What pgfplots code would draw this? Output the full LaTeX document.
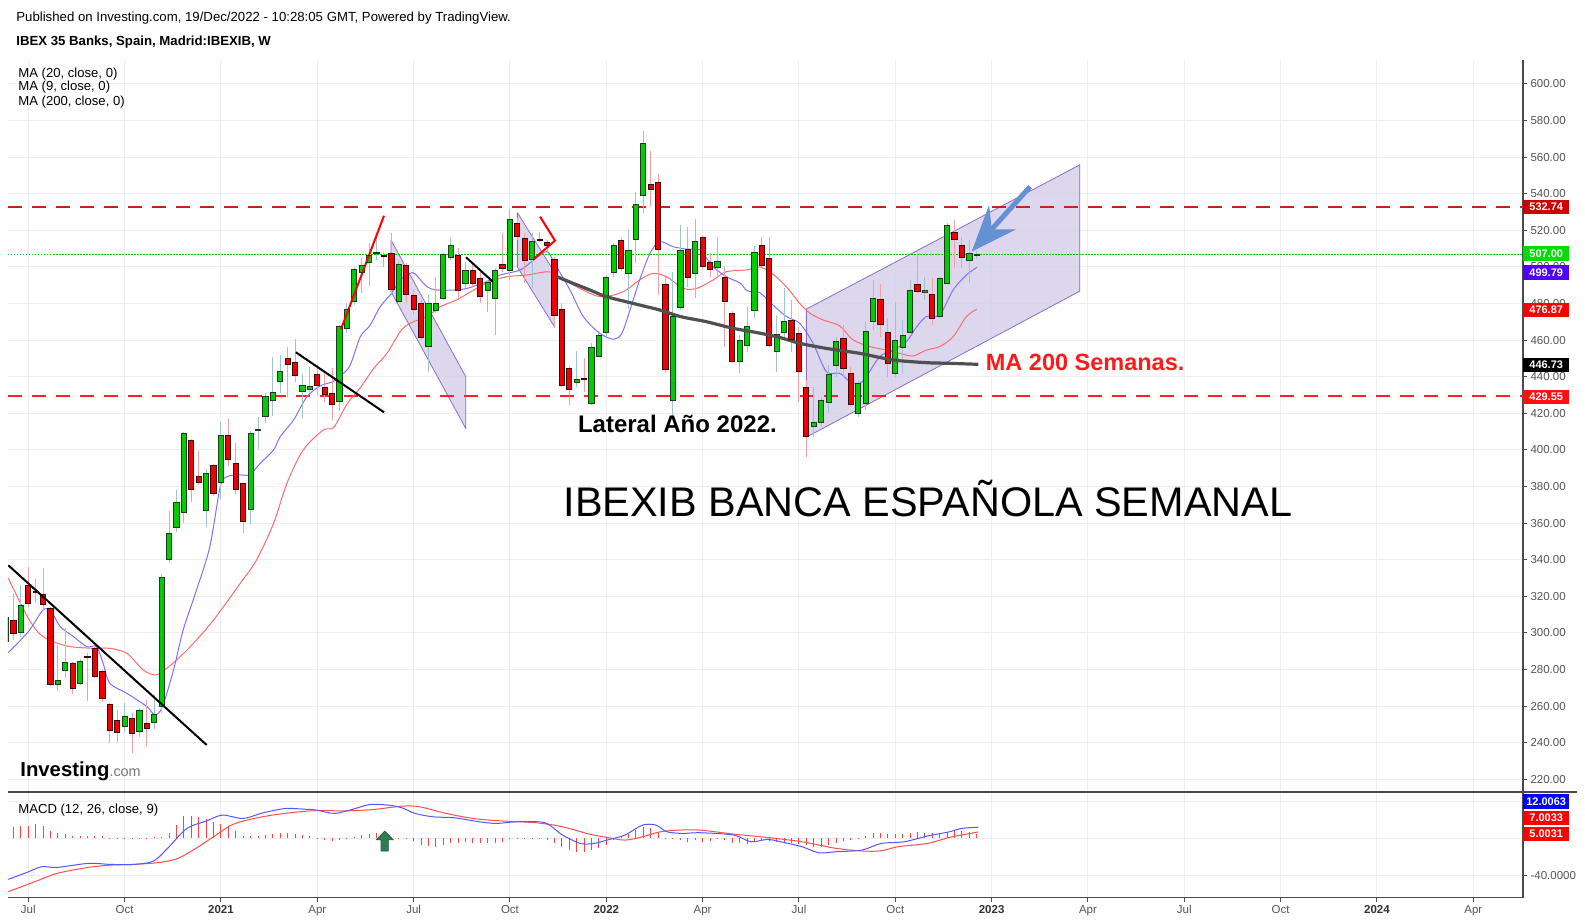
\documentclass[border=0pt]{standalone}
\usepackage{fontspec}
\setmainfont{Liberation Sans}
\usepackage{pgfplots}
\usepackage{pgfplotstable}
\pgfplotsset{compat=1.18}
\usetikzlibrary{arrows.meta}

\definecolor{upfill}{HTML}{00CC00}
\definecolor{dnfill}{HTML}{F00000}
\definecolor{upedge}{HTML}{1F3A1F}
\definecolor{dnedge}{HTML}{3A0A0A}
\definecolor{upwick}{HTML}{9CC6CC}
\definecolor{dnwick}{HTML}{F4A0A4}
\definecolor{ma9}{HTML}{8070FF}
\definecolor{ma20}{HTML}{FF6A6A}
\definecolor{ma200}{HTML}{505050}
\definecolor{gridc}{HTML}{EEEEEE}
\definecolor{axisc}{HTML}{4A4A4A}
\definecolor{tickc}{HTML}{555555}
\definecolor{chanfill}{HTML}{D6D0EA}
\definecolor{chanedge}{HTML}{8E6CC4}
\definecolor{arrowc}{HTML}{6391D4}
\definecolor{macdc}{HTML}{5555FF}
\definecolor{sigc}{HTML}{FF4D4D}
\definecolor{histc}{HTML}{FF4040}
\definecolor{resup}{HTML}{CC1F1F}
\definecolor{reslo}{HTML}{FF2020}
\definecolor{lastc}{HTML}{00CC00}
\definecolor{notec}{HTML}{FF1A1A}
\definecolor{sigarrow}{HTML}{2E7D4F}
\definecolor{sigarrowedge}{HTML}{1F5A38}
\definecolor{boxdkred}{HTML}{CC0000}
\definecolor{boxgreen}{HTML}{00DD00}
\definecolor{boxviolet}{HTML}{5000FF}
\definecolor{boxred}{HTML}{FF0000}
\definecolor{boxred2}{HTML}{FF1010}
\definecolor{boxblue}{HTML}{0000FF}

% weekly candles, x = weeks since Mon 6 Jan 2020
\pgfplotstableread{
w o h l c
23 295.3 312.0 292.0 308.9
25 300.4 326.2 297.6 314.8
30 272.0 293.4 268.5 274.1
31 279.6 302.6 275.6 284.0
33 272.3 285.8 271.6 284.5
39 249.0 261.6 245.7 254.5
41 246.3 258.8 243.3 257.8
43 251.2 266.1 247.7 255.2
44 259.8 332.2 256.1 330.4
45 340.2 366.7 338.0 354.5
46 357.7 378.1 355.4 371.4
47 365.9 409.8 360.3 409.1
50 367.0 389.4 358.1 387.2
52 382.3 415.1 373.0 408.0
56 367.6 410.4 359.4 409.1
57 410.6 418.2 400.4 411.2
58 418.2 431.0 414.9 429.1
59 426.8 450.6 418.8 431.5
60 437.3 451.9 431.0 443.0
63 431.9 441.5 417.3 435.5
64 433.2 445.2 431.9 434.6
68 426.4 468.3 421.5 467.4
69 466.5 480.1 463.8 476.5
70 481.1 500.2 479.2 498.7
71 496.9 504.7 485.6 500.7
72 502.5 512.9 489.6 506.0
73 507.2 516.6 503.8 507.8
76 481.4 502.9 480.1 501.5
80 456.3 484.7 442.8 479.8
81 476.0 494.7 474.7 480.1
82 482.9 507.5 482.0 506.6
83 505.3 516.6 503.8 512.0
85 491.1 502.9 488.3 497.8
88 487.1 492.9 475.6 491.6
89 482.9 499.3 462.8 498.3
91 498.3 531.5 492.9 526.0
94 504.2 518.4 488.3 513.8
100 437.0 454.1 434.6 438.6
102 425.5 458.3 424.6 456.1
103 451.0 463.8 450.6 462.7
104 464.3 495.6 461.9 494.3
105 497.1 512.9 494.7 511.8
107 496.5 520.8 476.9 509.1
108 514.8 541.2 502.0 534.2
109 539.2 574.3 529.3 567.6
113 427.3 497.1 416.4 472.9
114 478.0 523.0 476.5 509.1
116 496.2 526.1 482.9 513.8
119 499.8 516.2 494.7 502.9
122 448.5 462.8 441.9 459.9
123 457.0 478.3 453.7 467.4
124 476.0 511.5 472.0 507.8
127 453.9 473.8 442.4 463.0
128 464.1 488.3 461.0 470.3
132 412.8 434.6 407.3 415.1
133 415.1 429.1 412.8 426.8
134 426.0 446.4 420.0 441.3
135 445.9 461.9 440.1 459.4
138 420.0 438.3 418.2 436.4
139 425.5 470.1 421.9 464.7
140 470.1 492.9 465.6 482.9
143 441.9 481.0 440.1 459.9
144 456.1 471.0 441.9 462.8
145 464.3 492.9 463.8 486.9
147 486.2 494.7 482.0 487.4
149 473.2 494.7 471.9 493.8
150 491.1 523.9 490.2 522.8
153 503.8 514.8 491.1 507.1
154 506.4 508.9 504.2 507.0
}\upweeks

\pgfplotstableread{
w o h l c
24 306.6 321.7 296.2 299.8
26 326.2 336.2 314.0 316.2
27 322.6 329.5 316.2 321.9
28 321.1 335.3 312.6 315.7
29 313.5 314.0 271.0 272.0
32 283.4 284.3 266.7 269.8
34 287.0 288.9 263.0 286.5
35 291.6 294.0 275.5 276.3
36 279.2 279.8 262.5 264.3
37 261.0 261.5 239.7 246.8
38 252.3 257.9 240.6 245.7
40 253.4 256.1 234.2 245.2
42 250.3 263.4 237.5 247.9
48 405.3 406.0 371.8 378.5
49 385.6 399.5 381.0 382.3
51 391.6 392.5 375.0 376.3
53 408.0 416.9 391.4 394.9
54 392.7 403.6 375.8 378.5
55 381.8 382.0 354.5 361.0
61 450.1 456.5 429.1 446.8
62 447.9 460.5 437.3 440.6
65 441.3 446.4 430.1 435.3
66 434.2 442.8 426.4 430.4
67 431.0 444.6 416.4 425.0
74 506.2 508.0 500.2 505.6
75 507.5 518.4 484.7 487.8
77 500.7 502.0 480.1 484.7
78 484.3 487.4 473.8 477.0
79 479.8 482.0 460.1 461.6
84 506.0 510.2 482.0 487.4
86 497.8 501.1 489.2 491.1
87 493.8 497.5 480.5 483.8
90 501.5 518.4 497.5 499.1
92 523.9 526.6 514.8 516.9
93 515.7 518.4 491.1 503.8
95 514.9 519.3 513.8 514.5
96 513.5 514.8 507.5 511.8
97 504.2 505.6 467.4 473.6
98 476.9 480.5 434.6 435.2
99 444.6 445.9 424.6 432.8
101 439.0 450.1 431.9 438.6
106 514.6 516.2 498.0 499.3
110 545.2 563.4 533.0 542.4
111 546.3 550.8 484.7 509.7
112 490.2 494.7 441.9 444.1
115 509.7 522.0 489.2 494.3
117 516.2 517.5 498.4 500.0
118 502.4 507.8 494.7 498.7
120 494.3 500.2 456.5 481.1
121 474.7 476.0 447.4 448.5
125 511.8 516.2 500.2 501.0
126 504.6 516.2 456.5 457.2
129 470.9 481.9 453.7 460.5
130 463.4 467.4 426.4 442.8
131 434.2 438.3 396.0 407.6
136 461.0 468.3 440.1 444.6
137 441.9 445.5 423.7 425.1
141 482.0 490.7 461.9 468.3
142 464.3 471.9 440.1 447.4
146 490.5 507.5 485.6 486.5
148 485.1 493.8 468.3 471.9
151 518.9 525.7 499.3 514.8
152 511.7 516.6 499.3 505.3
}\downweeks

% MACD histogram
\pgfplotstableread{
w v
24 12.5
25 13.6
26 13.6
27 15.0
28 13.6
29 8.2
30 5.4
31 4.3
32 2.5
33 2.5
34 2.5
35 2.5
36 2.5
37 0.7
38 0.3
39 0.3
40 0.3
41 0.5
42 0.5
43 1.0
44 2.0
45 5.4
46 14.3
47 23.9
48 23.9
49 22.5
50 20.4
51 17.9
52 15.4
53 12.5
54 7.9
55 2.5
56 2.5
57 2.5
58 3.6
59 4.6
60 5.4
61 5.4
62 4.3
63 3.6
64 2.5
65 -0.5
66 -1.8
67 -2.9
68 -1.8
69 0.5
70 1.8
71 3.6
72 4.6
73 5.4
74 6.4
75 1.8
76 0.3
77 -1.0
78 -2.5
79 -7.1
80 -8.2
81 -8.9
82 -7.1
83 -5.4
84 -4.6
85 -3.6
86 -4.6
87 -5.4
88 -4.6
89 -4.6
90 -3.6
91 -1.1
92 -0.5
93 -1.1
94 -0.5
95 -0.3
96 -1.8
97 -4.6
98 -8.9
99 -12.5
100 -14.3
101 -14.3
102 -12.5
103 -10.0
104 -7.1
105 -1.8
106 2.5
107 4.6
108 8.9
109 12.5
110 11.4
111 5.4
112 0.3
113 -1.1
114 -1.8
115 -3.6
116 -1.8
117 -3.6
118 -2.5
119 -1.1
120 -1.8
121 -5.4
122 -5.4
123 -6.1
124 -3.6
125 -1.8
126 -2.5
127 -3.9
128 -4.6
129 -5.4
130 -6.1
131 -7.5
132 -8.9
133 -8.9
134 -7.1
135 -5.4
136 -2.5
137 -1.8
138 -1.1
139 2.5
140 5.4
141 5.4
142 4.6
143 4.6
144 4.6
145 5.4
146 6.4
147 6.0
148 5.4
149 5.4
150 7.1
151 8.2
152 8.2
153 7.1
154 5.0
}\histo

\newcommand\candles[4]{%
  \addplot[color=#4, line width=1pt, quiver={u=0, v=\thisrow{h}-\thisrow{l}}] table[x=w, y=l] {#1};
  \addplot[color=#3, line width=6.2pt, quiver={u=0, v=\thisrow{c}-\thisrow{o}}] table[x=w, y=o] {#1};
  \addplot[color=#2, line width=4.2pt, quiver={u=0, v=\thisrow{c}-\thisrow{o}}] table[x=w, y=o] {#1};
  \addplot[only marks, mark=-, mark size=3.1pt, mark options={color=#3, line width=1pt}] table[x=w, y=o] {#1};
  \addplot[only marks, mark=-, mark size=3.1pt, mark options={color=#3, line width=1pt}] table[x=w, y=c] {#1};
}

\pgfplotsset{
  chart/.style={
    scale only axis, width=1515pt,
    xmin=23.26, xmax=227.71,
    axis x line*=bottom, axis y line*=right,
    axis line style={draw=axisc, line width=1.2pt},
    xtick={26,39,52,65,78,91,104,117,130,143,156,169,182,195,208,221},
    grid style={gridc, line width=1pt},
    xmajorgrids, ymajorgrids,
    tick style={draw=axisc, line width=1pt},
    major tick length=4pt,
    tick align=outside,
    ticklabel style={font=\fontsize{11.5}{12}\selectfont, text=tickc},
  },
}
\tikzset{
  pbox/.style={anchor=west, inner sep=0pt, minimum width=46pt, minimum height=14.5pt,
    text=white, font=\bfseries\fontsize{11}{12}\selectfont},
}

\begin{document}
\begin{tikzpicture}
\useasboundingbox (0,0) rectangle (1585pt,922pt);

\begin{axis}[chart, name=main, at={(8pt,130pt)}, anchor=south west, height=732pt,
  ymin=213.1, ymax=613.1,
  xticklabels={}, xtick style={draw=none},
  ytick={220,240,...,600},
  yticklabels={220.00,240.00,260.00,280.00,300.00,320.00,340.00,360.00,380.00,400.00,
    420.00,440.00,460.00,480.00,500.00,520.00,540.00,560.00,580.00,600.00},
]
% channels
\addplot[fill=chanfill, fill opacity=0.85, draw=chanedge, line width=0.8pt]
  coordinates {(74.95,514.7) (85.03,440.1) (85.03,411.8) (74.95,486.5) (74.95,514.7)};
\addplot[fill=chanfill, fill opacity=0.85, draw=chanedge, line width=0.8pt]
  coordinates {(92.0,529.7) (97.0,497.2) (97.0,467.4) (92.0,500.0) (92.0,529.7)};
\addplot[fill=chanfill, fill opacity=0.85, draw=chanedge, line width=0.8pt]
  coordinates {(131.0,477.0) (167.9,555.8) (167.9,486.8) (131.0,407.0) (131.0,477.0)};

% support / resistance and last price
\addplot[color=resup, line width=2pt, dash pattern=on 14pt off 10pt] coordinates {(23.26,532.74) (227.71,532.74)};
\addplot[color=reslo, line width=2pt, dash pattern=on 14pt off 10pt] coordinates {(23.26,429.55) (227.71,429.55)};
\addplot[color=lastc, line width=1pt, dash pattern=on 1.5pt off 1.5pt] coordinates {(23.26,507) (227.71,507)};

% moving averages
\addplot[ma20, line width=1pt, smooth] coordinates {
(23.3,330) (26,308) (28,298) (31.2,292.9) (34.8,291.6) (37,291.6) (39.3,288.9) (41.5,279.8)
(43.1,277) (44.1,278.9) (46,285.2) (48.3,294.4) (51,307.1) (54.6,327.1) (56.8,339.9)
(59.1,359.9) (60.9,381.8) (63.1,400) (65.8,410.9) (67.2,412.3) (69,425) (70.8,434)
(72.6,444.5) (74.4,452.8) (76.2,464.7) (77.5,469.2) (79.8,472.9) (81.6,478.3) (83.8,482)
(86.1,487.4) (88.3,492) (90.6,494.7) (93.3,495.6) (96,497.4) (97.3,495.6) (99.5,490.2)
(101.8,485.6) (103.1,483.8) (105,484.7) (106.7,487.4) (108.5,492.9) (110.3,496.5)
(112.1,494.7) (114.4,488.3) (116.2,488.3) (118.4,492.9) (120.2,497.4) (123,498.4)
(124.7,500) (126.5,496) (128.3,489.2) (130.1,480.1) (131.5,474.7) (133.3,471) (135.5,467.8)
(137.3,460.1) (139.6,456.5) (141.8,454.6) (143.6,452.8) (145.4,451.4) (147.2,454.6)
(149,456.5) (150.8,461.9) (152.6,472.9) (154,476.9)};
\addplot[ma9, line width=1pt, smooth] coordinates {
(23.3,289.3) (26,300.7) (28,312.6) (29.1,311.7) (30.3,303.5) (32.1,298) (33.9,292.5)
(35.2,292.5) (36.1,283.4) (37,272.5) (39.3,267) (42,259.8) (43.1,255.2) (44.1,259.7)
(45.6,279.8) (46.9,301.6) (48.7,323.5) (50.5,347.2) (51.9,380) (52.8,385.4) (54.6,386.4)
(55.9,386.4) (57.3,392.7) (59.1,400) (60,407.3) (61.8,416.4) (63.6,429.1) (65.4,435)
(67.2,437.5) (68.1,440.5) (69.4,446) (70.8,461.9) (72.1,468) (73.5,478.3) (75,485.6)
(76.2,492.9) (77.5,496.5) (78.2,496.2) (79.8,489.2) (81.1,487.4) (83.4,487.4) (85.2,488.3)
(87.9,492) (89.7,495.6) (92.4,498.4) (94.2,503.8) (96,508.4) (97,502) (99.1,487.4)
(100.9,472.9) (103.1,463.8) (105,460.5) (106.1,463.8) (107.2,476.5) (108.5,492.9)
(109.9,507.5) (111.2,513.8) (113,511.1) (114.9,509.7) (116.6,509.3) (118.4,500.2)
(120.2,494.7) (122.1,491.1) (123,487) (124.7,486) (126.5,479.2) (128.3,472.9) (130.1,469.2)
(131.9,458.3) (133.7,442.8) (135.5,441.9) (136.9,437.3) (138.2,436.4) (139.1,440.1)
(140.9,451) (142.7,454.6) (144.5,459.2) (145.9,467.4) (147.2,472.9) (149,473.8)
(150.8,487.4) (152.6,495.6) (154,499.8)};

% candles
\candles{\upweeks}{upfill}{upedge}{upwick}
\candles{\downweeks}{dnfill}{dnedge}{dnwick}

\addplot[ma200, line width=3.2pt, smooth] coordinates {
(97.3,494.7) (99.5,491.1) (101.8,487.4) (104,483.8) (107.6,480.1) (111.2,476.5) (114,472.9)
(117.5,470.1) (121.1,466.5) (124.5,464) (127.4,461.5) (130.1,458.3) (133.7,455.5)
(138.2,452.8) (142.7,449.2) (147.2,447.7) (149.9,447.4) (154.2,446.8)};

% hand-drawn trend lines
\addplot[black, line width=2pt] coordinates {(23.3,337.0) (50.07,238.8)};
\addplot[black, line width=2pt] coordinates {(62.1,453.4) (74.0,420.6)};
\addplot[black, line width=2pt] coordinates {(85.07,505.3) (88.67,492.0)};
\addplot[red, line width=2pt] coordinates {(68.2,466.0) (74.0,528.0)};
\addplot[red, line width=2pt] coordinates {(95.06,527.5) (97.08,514.4) (94.16,504.2)};

\draw[arrowc, line width=5pt, -{Stealth[length=46pt, width=36pt, inset=16pt]}]
  (axis cs:161.2,543.9) -- (axis cs:153.3,508.4);

\node[anchor=base, inner sep=0pt, font=\bfseries\fontsize{24}{26}\selectfont]
  at (axis cs:113.6,409.5) {Lateral Año 2022.};
\node[anchor=base west, inner sep=0pt, text=notec, font=\bfseries\fontsize{23.5}{26}\selectfont]
  at (axis cs:155.2,443.2) {MA 200 Semanas.};
\node[anchor=base, inner sep=0pt, font=\fontsize{41.4}{44}\selectfont]
  at (axis cs:147.4,363.6) {IBEXIB BANCA ESPAÑOLA SEMANAL};

\coordinate (p532) at (axis cs:227.71,532.74);
\coordinate (p507) at (axis cs:227.71,507.3);
\coordinate (p499) at (axis cs:227.71,497.0);
\coordinate (p476) at (axis cs:227.71,476.4);
\coordinate (p446) at (axis cs:227.71,446.5);
\coordinate (p429) at (axis cs:227.71,429.0);
\end{axis}

\begin{axis}[chart, name=macd, at={(8pt,24.3pt)}, anchor=south west, height=105.7pt,
  ymin=-63.6, ymax=49.8,
  ytick={-40,0,40}, yticklabels={-40.0000,,},
  xticklabels={Jul,Oct,\textbf{\color{black!80}2021},Apr,Jul,Oct,\textbf{\color{black!80}2022},Apr,Jul,Oct,
    \textbf{\color{black!80}2023},Apr,Jul,Oct,\textbf{\color{black!80}2024},Apr},
]
\addplot[ycomb, color=histc, line width=1pt] table[x=w, y=v] {\histo};
\addplot[sigc, line width=1pt, smooth] coordinates {
(23.3,-57.1) (26.9,-46.4) (29.9,-37.5) (34.1,-31.1) (37.2,-28.6) (40.2,-27.9) (43.8,-25.7)
(46.2,-21.4) (48.6,-10.7) (51,1.8) (53.4,14.3) (55.9,20.4) (59.5,25.7) (64.3,29.6)
(69.1,29.6) (72.7,31.1) (76.4,34.6) (78.8,33.9) (82.4,26.8) (86,21.4) (89.6,18.9)
(94.5,16.8) (98.1,12.5) (101.7,4.6) (104.1,1.1) (106.5,-1.8) (108.9,1.8) (111.3,7.1)
(113.8,8.9) (116.7,8.9) (121.2,4.6) (125.6,1.1) (130.4,-3.6) (135,-10.7) (138.8,-13.6)
(141.1,-13.2) (143.4,-8.9) (147.3,-5.4) (150.3,1.1) (152.6,4.6) (154.2,7.0)};
\addplot[macdc, line width=1pt, smooth] coordinates {
(23.3,-43.9) (25.7,-36.8) (27.8,-30.4) (29.9,-31.1) (34.1,-26.8) (37.2,-27.9) (40.2,-27.9)
(42.9,-24.3) (45,-8.9) (47.4,10.7) (50.1,18.9) (52.2,25) (55,21.4) (57.7,27.5) (60.7,32.1)
(63.1,31.4) (64.9,30.4) (67.3,26.8) (69.7,31.1) (72.1,36.4) (74.6,35.7) (76.4,32.9)
(78.2,26.8) (80.6,23.2) (83.6,22.1) (86,18.9) (89,16.1) (92,17.9) (95.7,16.8) (98.1,3.6)
(100.5,-5.4) (102.3,-5.4) (104.1,-1.8) (106.5,3.6) (108.9,14.3) (110.7,14.3) (112.2,7.1)
(114.3,5.4) (116.7,6.1) (121.2,3.6) (123.5,-3.6) (125.8,-1.1) (128.1,-4.6) (130.4,-8.9)
(132.7,-15.4) (135,-14.3) (138.5,-12.5) (141.1,-5.4) (144.2,-3.6) (147.3,2.5) (150.3,7.1)
(151.9,10.7) (154.2,12.0)};
\addplot[fill=sigarrow, draw=sigarrowedge, line width=0.6pt] coordinates {
(74.1,8) (75.25,-1.5) (74.6,-1.5) (74.6,-13.5) (73.6,-13.5) (73.6,-1.5) (72.95,-1.5) (74.1,8)};
\coordinate (m12) at (axis cs:227.71,39.5);
\coordinate (m7) at (axis cs:227.71,22.0);
\coordinate (m5) at (axis cs:227.71,4.9);
\end{axis}

% separator running to the page edge
\draw[axisc, line width=1.2pt] (8pt,130pt) -- (1577pt,130pt);

% price boxes
\node[pbox, fill=boxdkred] at (p532) {532.74};
\node[pbox, fill=boxgreen] at (p507) {507.00};
\node[pbox, fill=boxviolet] at (p499) {499.79};
\node[pbox, fill=boxred] at (p476) {476.87};
\node[pbox, fill=black] at (p446) {446.73};
\node[pbox, fill=boxred2] at (p429) {429.55};
\node[pbox, fill=boxblue] at (m12) {12.0063};
\node[pbox, fill=boxred] at (m7) {7.0033};
\node[pbox, fill=boxred] at (m5) {5.0031};

% header texts
\node[anchor=base west, inner sep=0pt, font=\fontsize{13.2}{15}\selectfont] at (16.2pt,900.8pt)
  {Published on Investing.com, 19/Dec/2022 - 10:28:05 GMT, Powered by TradingView.};
\node[anchor=base west, inner sep=0pt, font=\bfseries\fontsize{13.2}{15}\selectfont] at (16.2pt,876.5pt)
  {IBEX 35 Banks, Spain, Madrid:IBEXIB, W};
\node[anchor=base west, inner sep=0pt, font=\fontsize{13.1}{15}\selectfont] at (18.2pt,844.2pt) {MA (20, close, 0)};
\node[anchor=base west, inner sep=0pt, font=\fontsize{13.1}{15}\selectfont] at (18.2pt,831.0pt) {MA (9, close, 0)};
\node[anchor=base west, inner sep=0pt, font=\fontsize{13.1}{15}\selectfont] at (18.2pt,816.9pt) {MA (200, close, 0)};
\node[anchor=base west, inner sep=0pt, font=\fontsize{13.1}{15}\selectfont] at (18.2pt,108.2pt) {MACD (12, 26, close, 9)};
\node[anchor=base west, inner sep=0pt] at (20.2pt,145.6pt)
  {{\bfseries\fontsize{20.3}{22}\selectfont Investing}{\color{black!55}\fontsize{14.4}{16}\selectfont .com}};
\end{tikzpicture}
\end{document}
